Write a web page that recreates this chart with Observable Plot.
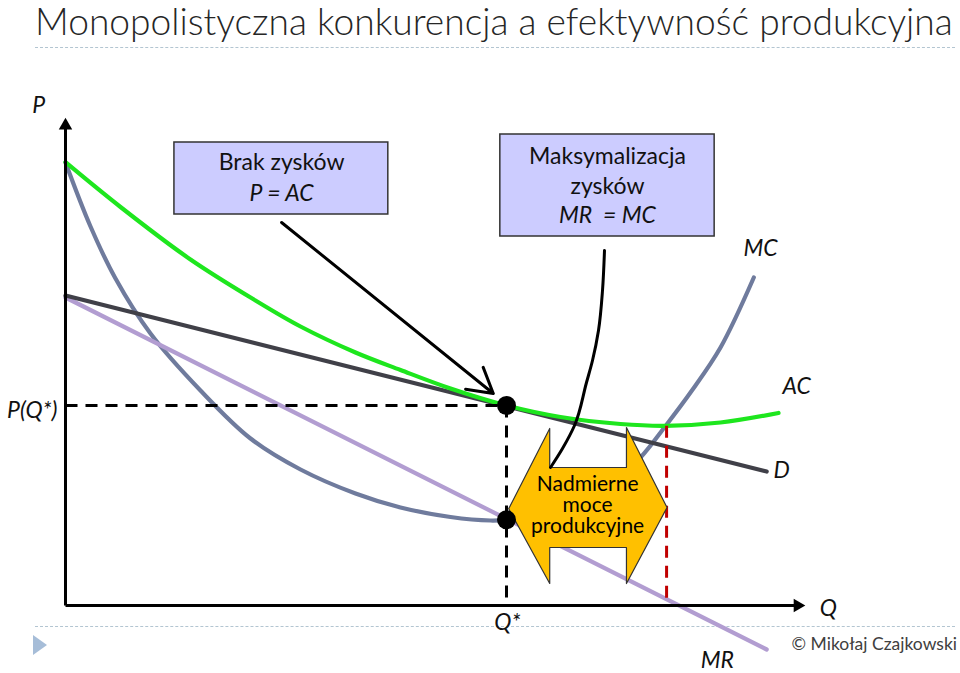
<!DOCTYPE html>
<html>
<head>
<meta charset="utf-8">
<script src="https://cdn.jsdelivr.net/npm/d3@7"></script>
<script src="https://cdn.jsdelivr.net/npm/@observablehq/plot@0.6"></script>
<style>
  html, body { margin: 0; padding: 0; background: #fff; }
  #wrap { position: relative; width: 960px; height: 673px; overflow: hidden; font-family: "Lato", sans-serif; }
  #title { position: absolute; left: 35px; top: 2px; font-size: 37px; line-height: 1; font-weight: 300; color: #262626; white-space: nowrap; }
  .rule { position: absolute; left: 35px; width: 920px; height: 0; border-top: 1.5px dashed #b3c5d1; }
  #tri { position: absolute; left: 33px; top: 635px; width: 0; height: 0; border-top: 10px solid transparent; border-bottom: 10px solid transparent; border-left: 14px solid #a6bdd8; }
  #copy { position: absolute; right: 3px; top: 633px; font-size: 17.5px; color: #404040; white-space: nowrap; }
  #chart { position: absolute; left: 0; top: 0; }
</style>
</head>
<body>
<div id="wrap">
  <div id="title">Monopolistyczna konkurencja a efektywność produkcyjna</div>
  <div class="rule" style="top:47px"></div>
  <div class="rule" style="top:626px"></div>
  <div id="tri"></div>
  <div id="copy">© Mikołaj Czajkowski</div>
  <div id="chart"></div>
</div>
<script>
// ---- data (Q = quantity, P = price) ----
const acQ = [0, 1.247, 2.834, 4.308, 5.329, 6.576, 7.596, 8.73, 10.0, 11.224, 12.585, 13.605, 14.853, 16.168];
const acP = [22.165, 19.925, 17.3, 15.25, 13.95, 12.65, 11.775, 10.85, 10.0, 9.425, 9.075, 8.985, 9.15, 9.625];

const mcQ = [0, 0.567, 1.134, 1.927, 3.061, 4.195, 5.329, 6.576, 7.596, 8.73, 9.637, 10.0, 10.771, 11.678, 12.358, 13.039, 13.605, 14.172, 14.853, 15.608];
const mcP = [22.15, 18.95, 16.35, 13.6, 10.75, 8.35, 6.8, 5.6, 4.9, 4.425, 4.25, 4.285, 4.55, 5.25, 6.05, 7.4, 8.975, 10.65, 12.9, 16.4];

const demandQ = [0, 15.9];
const demandP = [15.5, 6.7];
const mrQ = [0, 15.9];
const mrP = [15.4, -2.2];

const qStar = 10, pStar = 10, mcAtQStar = 4.29;
const qMinAC = 13.63, minAC = 8.985;
const axisQmax = 16.6, axisPmax = 24.0;

// text boxes
const boxX1 = [2.47, 9.86], boxX2 = [7.32, 14.72];
const boxY1 = [19.55, 18.45], boxY2 = [23.15, 23.55];
const boxText = ["Brak zysków", "Maksymalizacja", "zysków"];
const boxTextQ = [4.9, 12.29, 12.29], boxTextP = [22.15, 22.45, 20.95];
const boxItal = ["P = AC", "MR\u00a0 = MC"];
const boxItalQ = [4.9, 12.29], boxItalP = [20.6, 19.5];

// arrow from box 1 and connector from box 2
const arrowFrom = [4.9, 19.15], arrowTo = [9.7, 10.6];
const connQ = [12.222, 12.177, 12.086, 11.95, 11.814, 11.542, 11.27, 10.998];
const connP = [17.75, 15.75, 13.75, 12.25, 11.15, 9.0, 7.85, 6.9];

// double-headed block arrow
const blockQ = [10.05, 10.98, 10.98, 12.72, 12.72, 13.64, 12.72, 12.72, 10.98, 10.98];
const blockP = [4.84, 8.85, 6.9, 6.9, 8.9, 4.9, 1.1, 2.9, 2.9, 1.1];
const blockText = ["Nadmierne", "moce", "produkcyjne"];
const blockTextQ = [11.84, 11.84, 11.84], blockTextP = [6.05, 5.0, 3.95];

// curve / axis labels
const labelText = ["MC", "AC", "D", "Q", "Q*", "MR", "P"];
const labelQ = [15.76, 16.58, 16.24, 17.3, 10.02, 14.78, -0.61];
const labelP = [17.85, 10.95, 6.75, -0.15, -0.85, -2.75, 25.0];

const toRows = (qs, ps) => qs.map((q, i) => ({q, p: ps[i]}));

const plot = Plot.plot({
  width: 960, height: 673, margin: 0,
  style: {background: "transparent", fontFamily: "Lato, sans-serif"},
  x: {domain: [0, 18], range: [65, 65 + 18 * 44.1], axis: null},
  y: {domain: [0, 25], range: [605, 105], axis: null},
  marks: [
    // curves
    Plot.line(toRows(mcQ, mcP), {x: "q", y: "p", stroke: "#6f7b9d", strokeWidth: 4.2, curve: "catmull-rom"}),
    Plot.line(toRows(mrQ, mrP), {x: "q", y: "p", stroke: "#b29dd1", strokeWidth: 4.2}),
    Plot.line(toRows(demandQ, demandP), {x: "q", y: "p", stroke: "#404048", strokeWidth: 4.2}),
    Plot.line(toRows(acQ, acP), {x: "q", y: "p", stroke: "#1ee61e", strokeWidth: 4.2, curve: "catmull-rom"}),
    // dashed guides
    Plot.link([0], {x1: 0, x2: qStar, y1: pStar, y2: pStar, stroke: "black", strokeWidth: 3, strokeDasharray: "12,8"}),
    Plot.link([0], {x1: qStar, x2: qStar, y1: pStar, y2: 0, stroke: "black", strokeWidth: 3, strokeDasharray: "12,8"}),
    Plot.link([0], {x1: qMinAC, x2: qMinAC, y1: minAC, y2: 0, stroke: "#c00000", strokeWidth: 3, strokeDasharray: "12,8"}),
    // axes
    Plot.link([0], {x1: 0, x2: 0, y1: 0, y2: axisPmax, stroke: "black", strokeWidth: 3}),
    Plot.link([0], {x1: 0, x2: axisQmax, y1: 0, y2: 0, stroke: "black", strokeWidth: 3}),
    Plot.dot([0], {x: 0, y: axisPmax, symbol: "triangle", r: 5, fill: "black", stroke: null}),
    Plot.dot([0], {x: axisQmax, y: 0, symbol: "triangle", r: 5, fill: "black", stroke: null, rotate: 90}),
    // block arrow
    Plot.line(toRows(blockQ, blockP), {x: "q", y: "p", fill: "#ffc000", stroke: "#333", strokeWidth: 1.2, curve: "linear-closed"}),
    Plot.text(blockText, {x: (d, i) => blockTextQ[i], y: (d, i) => blockTextP[i], text: d => d, fontSize: 21, fill: "black"}),
    // equilibrium points
    Plot.dot([pStar, mcAtQStar], {x: qStar, y: d => d, r: 9.5, fill: "black", stroke: null}),
    // boxes
    Plot.rect(boxX1, {x1: d => d, x2: (d, i) => boxX2[i], y1: (d, i) => boxY1[i], y2: (d, i) => boxY2[i], fill: "#ccccff", stroke: "#333", strokeWidth: 1.5}),
    Plot.text(boxText, {x: (d, i) => boxTextQ[i], y: (d, i) => boxTextP[i], text: d => d, fontSize: 23, fill: "#111"}),
    Plot.text(boxItal, {x: (d, i) => boxItalQ[i], y: (d, i) => boxItalP[i], text: d => d, fontSize: 23, fontStyle: "italic", fill: "#111"}),
    // pointers
    Plot.arrow([0], {x1: arrowFrom[0], y1: arrowFrom[1], x2: arrowTo[0], y2: arrowTo[1], stroke: "black", strokeWidth: 3, headLength: 14}),
    Plot.line(toRows(connQ, connP), {x: "q", y: "p", stroke: "black", strokeWidth: 3, curve: "monotone-y"}),
    // labels
    Plot.text(labelText, {x: (d, i) => labelQ[i], y: (d, i) => labelP[i], text: d => d, fontSize: 23, fontStyle: "italic", fill: "#111"}),
    Plot.text(["P(Q*)"], {x: -0.18, y: 9.75, text: d => d, fontSize: 23, fontStyle: "italic", textAnchor: "end", fill: "#111"})
  ]
});
document.getElementById("chart").appendChild(plot);

// fit the title to the width of the header rule
const t = document.getElementById("title");
const w = t.getBoundingClientRect().width;
if (w > 0) t.style.fontSize = (37 * 918 / w).toFixed(2) + "px";
</script>
</body>
</html>
